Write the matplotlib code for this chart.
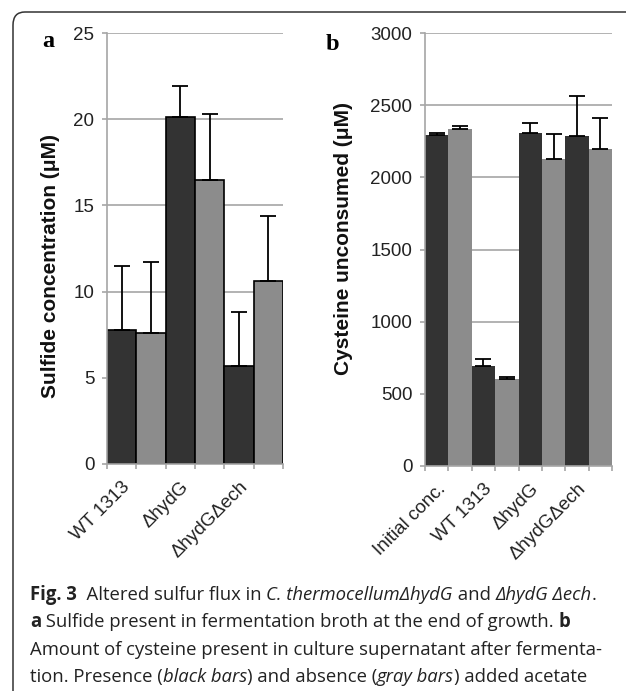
import matplotlib
matplotlib.use("Agg")
import matplotlib.pyplot as plt
from matplotlib.patches import FancyBboxPatch
from matplotlib.transforms import offset_copy
import numpy as np

# ---- data ----
a_labels = ["WT 1313", "ΔhydG", "ΔhydGΔech"]
a_values = [7.8, 7.6, 20.1, 16.5, 5.7, 10.6]
a_errors = [3.7, 4.1, 1.8, 3.8, 3.1, 3.8]
a_yticks = [0, 5, 10, 15, 20, 25]

b_labels = ["Initial conc.", "WT 1313", "ΔhydG", "ΔhydGΔech"]
b_values = [2296, 2336, 690, 601, 2308, 2129, 2287, 2196]
b_errors = [12, 23, 53, 17, 65, 174, 276, 214]
b_yticks = [0, 500, 1000, 1500, 2000, 2500, 3000]

DARK = "#333333"
GRAY = "#8c8c8c"
GRID = "#a6a6a6"
SANS = ["Liberation Sans", "DejaVu Sans"]

W, H = 626, 691
fig = plt.figure(figsize=(W / 100, H / 100), dpi=100)
fig.patch.set_facecolor("white")

def fx(px):
    return px / W

def fy(py):
    return 1 - py / H

def setup_axis(ax, values, errors, labels, yticks, ymax, ylabel, edge):
    n = len(values)
    x = np.arange(n)
    colors = [DARK if i % 2 == 0 else GRAY for i in range(n)]
    ax.bar(x, values, width=1.0, color=colors,
           edgecolor="black" if edge else "none",
           linewidth=1.2 if edge else 0, zorder=2)
    ax.errorbar(x, values, yerr=[np.zeros(n), errors], fmt="none",
                ecolor="black", elinewidth=1.3, capsize=5.7,
                capthick=1.3, zorder=3)
    ax.set_xlim(-0.5, n - 0.5)
    ax.set_ylim(0, ymax)
    ax.set_yticks(yticks)
    ax.set_yticklabels([str(t) for t in yticks], fontsize=13.5,
                       family=SANS, color="#222222")
    ax.yaxis.grid(True, color=GRID, linewidth=1.2, zorder=0)
    ax.set_axisbelow(True)
    for s in ["top", "right"]:
        ax.spines[s].set_visible(False)
    for s in ["left", "bottom"]:
        ax.spines[s].set_color(GRID)
        ax.spines[s].set_linewidth(1.2)
    ax.tick_params(axis="y", length=3.6, width=1.2, color=GRID, pad=5.5)
    ax.set_xticks(np.arange(-0.5, n, 1.0))
    ax.set_xticklabels([])
    ax.tick_params(axis="x", length=3.6, width=1.2, color=GRID)
    tr = offset_copy(ax.get_xaxis_transform(), fig=fig, x=0, y=-10.5,
                     units="points")
    for i, lab in enumerate(labels):
        ax.text(2 * i, 0, lab, rotation=45, ha="right", va="top",
                rotation_mode="anchor", fontsize=13.5, family=SANS,
                color="#222222", transform=tr, clip_on=False)
    ax.set_ylabel(ylabel, fontsize=15, fontweight="bold", family=SANS,
                  color="#111111")

axa = fig.add_axes([fx(107), fy(464), fx(283 - 107), (464 - 33) / H])
setup_axis(axa, a_values, a_errors, a_labels, a_yticks, 25,
           "Sulfide concentration (μM)", True)
axa.yaxis.set_label_coords(-0.267, 0.46)

axb = fig.add_axes([fx(425), fy(466), fx(612 - 425), (466 - 33) / H])
setup_axis(axb, b_values, b_errors, b_labels, b_yticks, 3000,
           "Cysteine unconsumed (μM)", False)
axb.yaxis.set_label_coords(-0.385, 0.525)

# panel letters
fig.text(fx(42), fy(47), "a", fontsize=17.5, fontweight="bold",
         family="Liberation Serif", ha="left", va="baseline")
fig.text(fx(326), fy(50), "b", fontsize=17.5, fontweight="bold",
         family="Liberation Serif", ha="left", va="baseline")

# border
border = FancyBboxPatch((fx(13), fy(720)), fx(700), (720 - 12) / H,
                        boxstyle="round,pad=0,rounding_size=0.019",
                        transform=fig.transFigure, fill=False,
                        edgecolor="#333333", linewidth=1.1, clip_on=False)
fig.patches.append(border)

# caption with mixed styles
CAP_FAMILY = ["Open Sans", "DejaVu Sans"]
renderer = fig.canvas.get_renderer()

caption = [
    (600, [("Fig. 3", "bold", "normal"), ("  Altered sulfur flux in ", "normal", "normal"),
           ("C. thermocellumΔhydG", "normal", "italic"), (" and ", "normal", "normal"),
           ("ΔhydG Δech", "normal", "italic"), (".", "normal", "normal")]),
    (627, [("a", "bold", "normal"),
           (" Sulfide present in fermentation broth at the end of growth. ", "normal", "normal"),
           ("b", "bold", "normal")]),
    (655, [("Amount of cysteine present in culture supernatant after fermenta-", "normal", "normal")]),
    (682, [("tion. Presence (", "normal", "normal"), ("black bars", "normal", "italic"),
           (") and absence (", "normal", "normal"), ("gray bars", "normal", "italic"),
           (") added acetate", "normal", "normal")]),
]

def line_width(runs, size):
    total = 0
    for txt, weight, style in runs:
        t = fig.text(0, 0, txt, fontsize=size, family=CAP_FAMILY,
                     fontweight=weight, fontstyle=style)
        total += t.get_window_extent(renderer).width
        t.remove()
    return total

# choose the caption size so that the first line spans ~568 px like the reference
base = 10.0
cap_size = base * 568.0 / line_width(caption[0][1], base)

def run_line(x0, ybase, runs):
    x = x0
    for txt, weight, style in runs:
        t = fig.text(fx(x), fy(ybase), txt, fontsize=cap_size,
                     family=CAP_FAMILY, fontweight=weight, fontstyle=style,
                     ha="left", va="baseline", color="#222222")
        x += t.get_window_extent(renderer).width

for yb, runs in caption:
    run_line(30, yb, runs)

fig.savefig("out.png", dpi=100)
